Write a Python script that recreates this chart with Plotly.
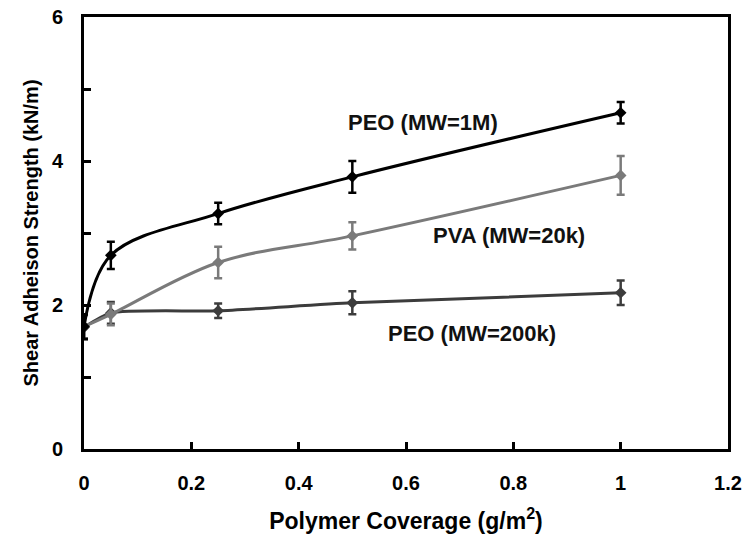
import plotly.graph_objects as go

x = [0, 0.05, 0.25, 0.5, 1.0]
peo_1m = [1.70, 2.69, 3.27, 3.78, 4.67]
peo_1m_err = [0.17, 0.19, 0.15, 0.22, 0.15]
pva_20k = [1.70, 1.87, 2.59, 2.96, 3.80]
pva_20k_err = [0.17, 0.15, 0.22, 0.19, 0.27]
peo_200k = [1.69, 1.89, 1.92, 2.03, 2.17]
peo_200k_err = [0.17, 0.15, 0.10, 0.16, 0.17]

labels = ["PEO (MW=1M)", "PVA (MW=20k)", "PEO (MW=200k)"]
label_x = [0.631, 0.791, 0.723]
label_y = [4.53, 2.96, 1.60]

font_main = "Liberation Sans, Arial, sans-serif"

fig = go.Figure()
series = [
    (peo_200k, peo_200k_err, "#3c3c3c", 0.6),
    (pva_20k, pva_20k_err, "#7a7a7a", 1.0),
    (peo_1m, peo_1m_err, "#000000", 1.0),
]
for ys, err, col, sm in series:
    fig.add_trace(go.Scatter(
        x=x, y=ys, mode="lines+markers",
        line=dict(color=col, width=3, shape="spline", smoothing=sm),
        marker=dict(symbol="diamond", size=9, color=col),
        error_y=dict(type="data", array=err, visible=True, color=col, thickness=2.5, width=4),
        showlegend=False,
    ))

for t, lx, ly in zip(labels, label_x, label_y):
    fig.add_annotation(x=lx, y=ly, text="<b>" + t + "</b>", showarrow=False,
                       font=dict(family=font_main, size=22, color="#111"))

fig.update_layout(
    width=744, height=538,
    margin=dict(l=84, r=16, t=17, b=89),
    plot_bgcolor="white", paper_bgcolor="white",
    font=dict(family=font_main, color="black"),
)
fig.update_xaxes(
    range=[0, 1.2], tickvals=[0, 0.2, 0.4, 0.6, 0.8, 1.0, 1.2],
    ticktext=["<b>0</b>", "<b>0.2</b>", "<b>0.4</b>", "<b>0.6</b>", "<b>0.8</b>", "<b>1</b>", "<b>1.2</b>"],
    ticks="inside", ticklen=7, tickwidth=2.5, tickcolor="black",
    showline=True, linewidth=3, linecolor="black", mirror=True,
    showgrid=False, zeroline=False, automargin=False,
    tickfont=dict(family=font_main, size=20, color="black"),
    ticklabelstandoff=14,
    title=dict(text="<b>Polymer Coverage (g/m<sup>2</sup>)</b>", font=dict(family=font_main, size=23), standoff=20),
)
fig.update_yaxes(
    range=[0, 6], tickvals=[0, 2, 4, 6],
    ticktext=["<b>0</b>", "<b>2</b>", "<b>4</b>", "<b>6</b>"],
    ticks="inside", ticklen=7, tickwidth=2.5, tickcolor="black",
    minor=dict(dtick=1, ticks="inside", ticklen=7, tickwidth=2.5, tickcolor="black", showgrid=False),
    showline=True, linewidth=3, linecolor="black", mirror=True,
    showgrid=False, zeroline=False, automargin=False,
    tickfont=dict(family=font_main, size=20, color="black"),
    ticklabelstandoff=14,
    title=dict(text="<b>Shear Adheison Strength (kN/m)</b>", font=dict(family=font_main, size=20), standoff=8),
)

# remove the browser's default 8px body margin so the figure fills the window exactly
fig.write_html("out.html", config={"displayModeBar": False},
               post_script="document.body.style.margin='0px';")
